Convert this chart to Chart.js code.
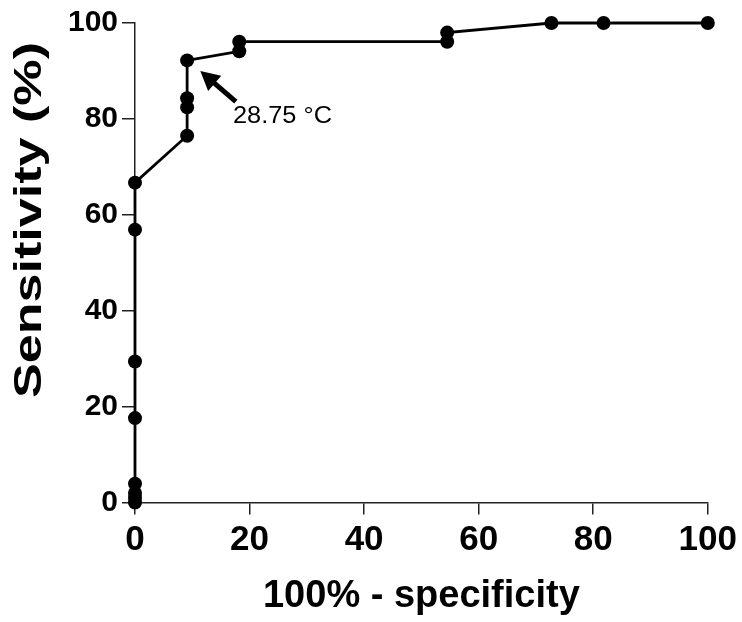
<!DOCTYPE html>
<html>
<head>
<meta charset="utf-8">
<script src="https://cdn.jsdelivr.net/npm/chart.js@4.4.1/dist/chart.umd.min.js"></script>
<style>
html,body{margin:0;padding:0;background:#fff;}
#wrap{width:742px;height:622px;position:relative;}
</style>
</head>
<body>
<div id="wrap"><canvas id="c" width="742" height="622"></canvas></div>
<script>
// ROC curve data (100% - specificity, sensitivity %)
const fprValues = [0, 0, 0, 0, 0, 0, 0, 0, 9.1, 9.1, 9.1, 9.1, 18.2, 18.2, 54.5, 54.5, 72.7, 81.8, 100];
const sensValues = [0, 1.0, 2.0, 3.9, 17.6, 29.4, 56.9, 66.7, 76.5, 82.4, 84.3, 92.2, 94.1, 96.1, 96.1, 98.0, 100, 100, 100];
const xTicks = [0, 20, 40, 60, 80, 100];
const yTicks = [0, 20, 40, 60, 80, 100];
const xTitle = '100% - specificity';
const yTitle = 'Sensitivity (%)';
const cutoffLabel = '28.75 \u00B0C';
const arrowTip = [11.4, 90.0];
const arrowTail = [17.6, 83.6];
const labelAt = [17.1, 79.2];

const points = fprValues.map((x, i) => ({x: x, y: sensValues[i]}));

const overlay = {
  id: 'overlay',
  afterDraw(chart) {
    const ctx = chart.ctx;
    const xs = chart.scales.x, ys = chart.scales.y;
    const ca = chart.chartArea;
    ctx.save();
    // arrow
    const tx = xs.getPixelForValue(arrowTip[0]), ty = ys.getPixelForValue(arrowTip[1]);
    const sx = xs.getPixelForValue(arrowTail[0]), sy = ys.getPixelForValue(arrowTail[1]);
    const ang = Math.atan2(ty - sy, tx - sx);
    const headLen = 19, headW = 10;
    const bx = tx - headLen * Math.cos(ang), by = ty - headLen * Math.sin(ang);
    ctx.strokeStyle = '#000';
    ctx.lineWidth = 5;
    ctx.beginPath();
    ctx.moveTo(sx, sy);
    ctx.lineTo(bx + 2 * Math.cos(ang), by + 2 * Math.sin(ang));
    ctx.stroke();
    ctx.fillStyle = '#000';
    ctx.beginPath();
    ctx.moveTo(tx, ty);
    ctx.lineTo(bx + headW * Math.sin(ang), by - headW * Math.cos(ang));
    ctx.lineTo(bx - headW * Math.sin(ang), by + headW * Math.cos(ang));
    ctx.closePath();
    ctx.fill();
    // label
    ctx.font = '24px "Liberation Sans", Arial, sans-serif';
    ctx.textAlign = 'left';
    ctx.textBaseline = 'alphabetic';
    const lw = ctx.measureText(cutoffLabel).width;
    const lx = xs.getPixelForValue(labelAt[0]), ly = ys.getPixelForValue(labelAt[1]);
    ctx.save();
    ctx.translate(lx, ly);
    ctx.scale(99 / lw, 1);
    ctx.fillText(cutoffLabel, 0, 0);
    ctx.restore();
    // x title
    ctx.font = 'bold 38px "Liberation Sans", Arial, sans-serif';
    ctx.textAlign = 'center';
    ctx.fillText(xTitle, (ca.left + ca.right) / 2, 607);
    // y title
    ctx.font = 'bold 38px "Liberation Sans", Arial, sans-serif';
    const w = ctx.measureText(yTitle).width;
    ctx.translate(41, 220);
    ctx.rotate(-Math.PI / 2);
    ctx.scale(356 / w, 1);
    ctx.fillText(yTitle, 0, 0);
    ctx.restore();
  }
};

new Chart(document.getElementById('c'), {
  type: 'scatter',
  data: {
    datasets: [{
      data: points,
      showLine: true,
      borderColor: '#000',
      borderWidth: 2.8,
      backgroundColor: '#000',
      pointBackgroundColor: '#000',
      pointBorderColor: '#000',
      pointRadius: 7,
      pointBorderWidth: 0,
      tension: 0,
      clip: false
    }]
  },
  options: {
    responsive: false,
    animation: false,
    devicePixelRatio: 1,
    layout: {padding: {top: 23, right: 34, left: 0, bottom: 0}},
    plugins: {legend: {display: false}, tooltip: {enabled: false}},
    scales: {
      x: {
        type: 'linear', min: 0, max: 100,
        afterBuildTicks(s) { s.ticks = xTicks.map(v => ({value: v})); },
        afterFit(s) { s.height = 119.5; },
        border: {display: true, color: '#222', width: 1.5},
        grid: {display: true, drawOnChartArea: false, drawTicks: true, tickLength: 12, color: '#222', lineWidth: 1.5},
        ticks: {color: '#000', padding: 5, maxRotation: 0, font: {family: '"Liberation Sans", Arial, sans-serif', weight: 'bold', size: 35}}
      },
      y: {
        type: 'linear', min: 0, max: 100,
        afterBuildTicks(s) { s.ticks = yTicks.map(v => ({value: v})); },
        afterFit(s) { s.width = 135; },
        border: {display: true, color: '#222', width: 1.5},
        grid: {display: true, drawOnChartArea: false, drawTicks: true, tickLength: 13, color: '#222', lineWidth: 1.5},
        ticks: {color: '#000', padding: 4, font: {family: '"Liberation Sans", Arial, sans-serif', weight: 'bold', size: 30}}
      }
    }
  },
  plugins: [overlay]
});
</script>
</body>
</html>
